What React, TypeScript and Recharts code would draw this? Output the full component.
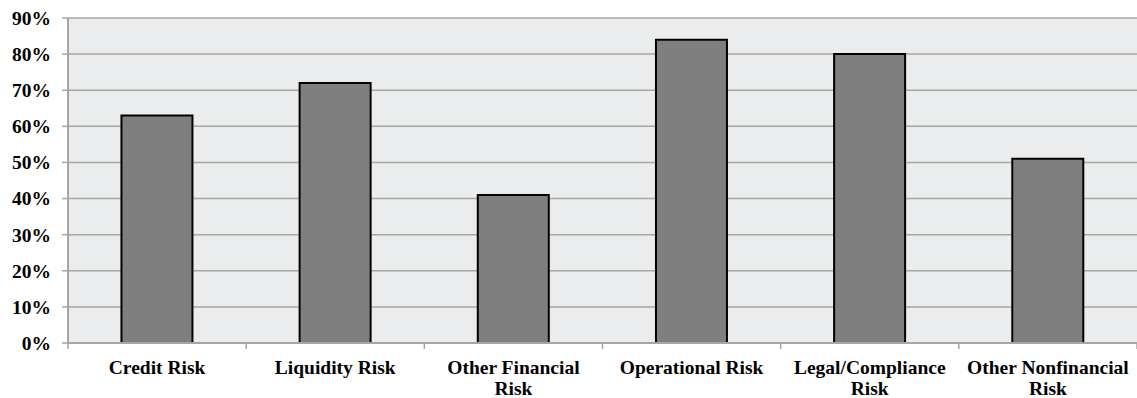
import React from "react";
import { BarChart, Bar, XAxis, YAxis, CartesianGrid } from "recharts";

const categories = [
  "Credit Risk",
  "Liquidity Risk",
  "Other Financial\nRisk",
  "Operational Risk",
  "Legal/Compliance\nRisk",
  "Other Nonfinancial\nRisk",
];
const shares = [63, 72, 41, 84, 80, 51];
const yTicks = [0, 10, 20, 30, 40, 50, 60, 70, 80, 90];

const CHART_W = 1137;
const CHART_H = 398;
const Y_AXIS_W = 68;
const MARGIN = { top: 18, right: 0, bottom: 0, left: 0 };
const FONT = "'Liberation Serif', 'Times New Roman', serif";
const GRID = "#a6a6a6";

const data = categories.map((name, i) => ({ name, value: shares[i] }));

// half of one category band, used to place tick marks on the band edges
const halfBand = (CHART_W - Y_AXIS_W - MARGIN.right) / categories.length / 2;

const CategoryTick = (props: any) => {
  const { x, y, payload, index } = props;
  const lines = String(payload.value).split("\n");
  return (
    <g>
      <line x1={x - halfBand} x2={x - halfBand} y1={y} y2={y + 6} stroke={GRID} strokeWidth={1.5} />
      {index === categories.length - 1 && (
        <line x1={x + halfBand} x2={x + halfBand} y1={y} y2={y + 6} stroke={GRID} strokeWidth={1.5} />
      )}
      <text
        x={x}
        y={y + 31}
        textAnchor="middle"
        fontFamily={FONT}
        fontWeight="bold"
        fontSize={19.5}
        fill="#000"
      >
        {lines.map((ln, i) => (
          <tspan key={i} x={x} dy={i === 0 ? 0 : 21}>
            {ln}
          </tspan>
        ))}
      </text>
    </g>
  );
};

export default function App() {
  return (
    <div style={{ position: "absolute", left: 0, top: 0, background: "#fff" }}>
      <BarChart
        width={CHART_W}
        height={CHART_H}
        data={data}
        margin={MARGIN}
        barCategoryGap="30%"
      >
        <CartesianGrid vertical={false} stroke={GRID} strokeWidth={1.5} fill="#ebeced" />
        <XAxis
          dataKey="name"
          interval={0}
          height={55}
          tickLine={false}
          tickSize={0}
          tickMargin={0}
          axisLine={{ stroke: GRID, strokeWidth: 2 }}
          tick={<CategoryTick />}
        />
        <YAxis
          width={Y_AXIS_W}
          domain={[0, 90]}
          ticks={yTicks}
          interval={0}
          tickFormatter={(v: number) => `${v}%`}
          tickSize={6}
          tickMargin={11}
          tickLine={{ stroke: GRID, strokeWidth: 1.5 }}
          axisLine={{ stroke: GRID, strokeWidth: 2 }}
          tick={{ fontFamily: FONT, fontWeight: "bold", fontSize: 19.5, fill: "#000" }}
        />
        <Bar
          dataKey="value"
          fill="#7f7f7f"
          stroke="#000"
          strokeWidth={2}
          isAnimationActive={false}
        />
      </BarChart>
    </div>
  );
}
